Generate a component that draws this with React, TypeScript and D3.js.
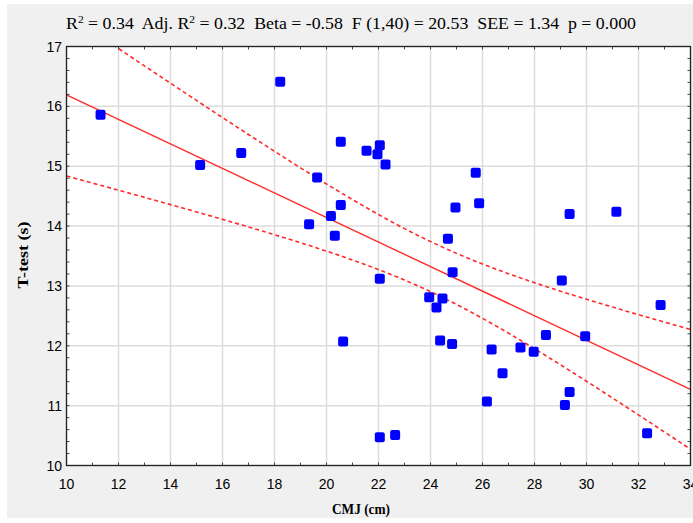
import * as d3 from "d3";

// CMJ (cm) vs T-test (s)
const cmj = [
  11.31, 15.14, 16.72, 18.22, 20.55, 21.54, 22.05, 21.96, 22.27, 19.64,
  20.55, 20.17, 19.33, 20.32, 22.05, 25.74, 25.87, 24.96, 24.67, 24.85,
  23.95, 24.46, 24.23, 29.35, 31.15, 29.05, 32.85, 20.64, 24.37, 24.83,
  26.35, 27.46, 27.97, 28.44, 29.95, 26.77, 29.35, 29.17, 26.17, 22.05,
  22.64, 32.33,
];
const ttest = [
  15.86, 15.02, 15.22, 16.41, 15.41, 15.26, 15.35, 15.2, 15.03, 14.81,
  14.35, 14.17, 14.03, 13.84, 13.12, 14.89, 14.38, 14.31, 13.79, 13.23,
  12.81, 12.79, 12.64, 14.2, 14.24, 13.09, 12.68, 12.07, 12.09, 12.03,
  11.94, 11.97, 11.9, 12.18, 12.16, 11.54, 11.23, 11.01, 11.07, 10.47,
  10.51, 10.54,
];
const xTicks = [10, 12, 14, 16, 18, 20, 22, 24, 26, 28, 30, 32, 34];
const yTicks = [10, 11, 12, 13, 14, 15, 16, 17];
const tCrit = 2.021; // t(0.975, 40)

const W = 693;
const H = 523;
const m = { left: 66.5, top: 46.5, right: 690.5, bottom: 465.5 };
const serif = "Liberation Serif, Times New Roman, serif";
const sans = "Liberation Sans, Arial, sans-serif";

export default function App() {
  const x = d3.scaleLinear().domain([10, 34]).range([m.left, m.right]);
  const y = d3.scaleLinear().domain([10, 17]).range([m.bottom, m.top]);

  // least squares fit + 95% confidence band of the mean
  const n = cmj.length;
  const mx = d3.mean(cmj)!;
  const my = d3.mean(ttest)!;
  const sxx = d3.sum(cmj, (v) => (v - mx) ** 2);
  const sxy = d3.sum(cmj, (v, i) => (v - mx) * (ttest[i] - my));
  const b = sxy / sxx;
  const a = my - b * mx;
  const sse = d3.sum(cmj, (v, i) => (ttest[i] - (a + b * v)) ** 2);
  const s = Math.sqrt(sse / (n - 2));
  const xs = d3.range(10, 34.01, 0.25);
  const band = (sign: number) =>
    xs.map((v) => [v, a + b * v + sign * tCrit * s * Math.sqrt(1 / n + (v - mx) ** 2 / sxx)] as [number, number]);
  const line = d3.line<[number, number]>().x((d) => x(d[0])).y((d) => y(d[1]));

  const minorX = d3.range(10, 34.01, 1);
  const minorY = d3.range(10, 17.001, 0.2);

  return (
    <svg width={W} height={H} style={{ display: "block", position: "absolute", left: 0, top: 0 }}>
      <rect x={0} y={0} width={W} height={H} fill="#fff" />
      <rect x={7} y={4} width={W - 7} height={514} fill="#f0f0f0" />
      <defs>
        <clipPath id="plot">
          <rect x={m.left} y={m.top} width={m.right - m.left} height={m.bottom - m.top} />
        </clipPath>
      </defs>
      <text x={66} y={29} fontFamily={serif} fontSize={17} fill="#000" textLength={570} lengthAdjust="spacingAndGlyphs" style={{ whiteSpace: "pre" }}>
        R<tspan dy={-6} fontSize={11}>2</tspan>
        <tspan dy={6}>{" = 0.34  Adj. R"}</tspan>
        <tspan dy={-6} fontSize={11}>2</tspan>
        <tspan dy={6}>{" = 0.32  Beta = -0.58  F (1,40) = 20.53  SEE = 1.34  p = 0.000"}</tspan>
      </text>
      <rect x={m.left} y={m.top} width={m.right - m.left} height={m.bottom - m.top} fill="#fff" />
      {xTicks.map((t) => (
        <line key={"gx" + t} x1={x(t)} x2={x(t)} y1={m.top} y2={m.bottom} stroke="#dcdcdc" strokeWidth={1.5} />
      ))}
      {yTicks.map((t) => (
        <line key={"gy" + t} x1={m.left} x2={m.right} y1={y(t)} y2={y(t)} stroke="#dcdcdc" strokeWidth={1.5} />
      ))}
      {minorX.map((t) => (
        <g key={"mx" + t} stroke="#444" strokeWidth={1}>
          <line x1={x(t)} x2={x(t)} y1={m.top} y2={m.top + 3} />
          <line x1={x(t)} x2={x(t)} y1={m.bottom} y2={m.bottom - 3} />
        </g>
      ))}
      {minorY.map((t) => (
        <g key={"my" + t} stroke="#444" strokeWidth={1}>
          <line x1={m.left} x2={m.left + 3} y1={y(t)} y2={y(t)} />
          <line x1={m.right} x2={m.right - 3} y1={y(t)} y2={y(t)} />
        </g>
      ))}
      <g clipPath="url(#plot)" fill="none" stroke="#ff2a2a">
        <path d={line([[10, a + b * 10], [34, a + b * 34]])!} strokeWidth={1.4} />
        <path d={line(band(1))!} strokeWidth={1.6} strokeDasharray="4,3" />
        <path d={line(band(-1))!} strokeWidth={1.6} strokeDasharray="4,3" />
      </g>
      {cmj.map((v, i) => (
        <rect key={i} x={x(v) - 5} y={y(ttest[i]) - 5} width={10} height={10} rx={2} fill="#0000ff" />
      ))}
      <rect x={m.left} y={m.top} width={m.right - m.left} height={m.bottom - m.top} fill="none" stroke="#222" strokeWidth={1.3} />
      {xTicks.map((t) => (
        <text key={"tx" + t} x={x(t)} y={489} textAnchor="middle" fontFamily={sans} fontSize={14} fill="#000">
          {t}
        </text>
      ))}
      {yTicks.map((t) => (
        <text key={"ty" + t} x={62} y={y(t) + 5} textAnchor="end" fontFamily={sans} fontSize={14} fill="#000">
          {t}
        </text>
      ))}
      <text x={332} y={514} fontFamily={serif} fontWeight="bold" fontSize={15.5} textLength={58} lengthAdjust="spacingAndGlyphs">
        CMJ (cm)
      </text>
      <text transform="translate(28,288.5) rotate(-90)" fontFamily={serif} fontWeight="bold" fontSize={15.5} textLength={67} lengthAdjust="spacingAndGlyphs">
        T-test (s)
      </text>
    </svg>
  );
}
